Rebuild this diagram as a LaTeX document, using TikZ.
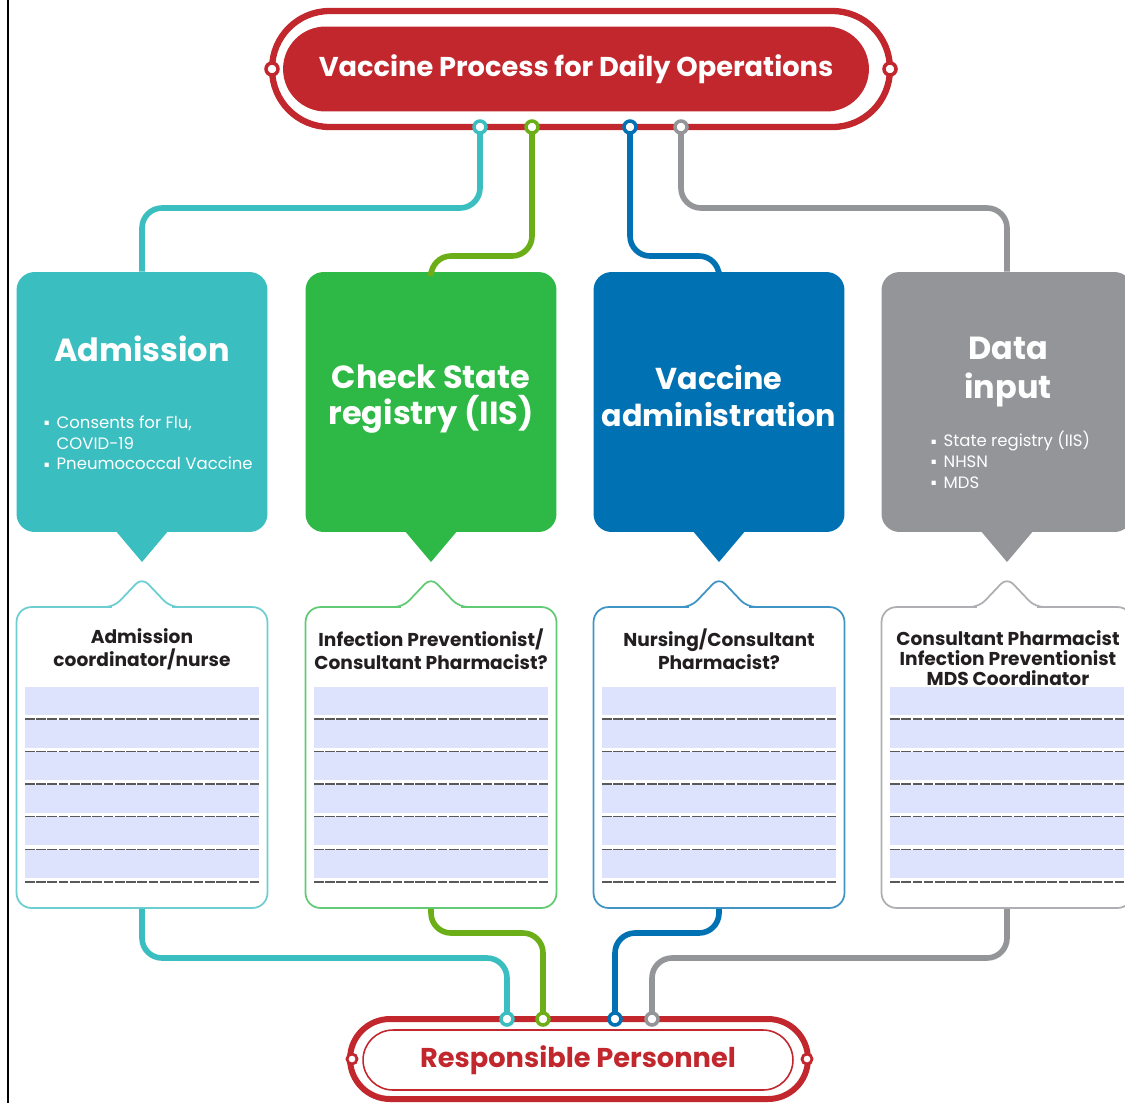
\documentclass[tikz,border=0pt]{standalone}
\usepackage{fontspec}
\setmainfont{Poppins}
\usetikzlibrary{positioning}
\definecolor{vred}{HTML}{C1272D}
\definecolor{vteal}{HTML}{3BBEC0}
\definecolor{vgreen}{HTML}{2EB845}
\definecolor{vgreenline}{HTML}{6BAE17}
\definecolor{vblue}{HTML}{0071B2}
\definecolor{vgray}{HTML}{939598}
\definecolor{rowfill}{HTML}{DDE3FC}
\definecolor{ink}{HTML}{231F20}
\newcommand{\pt}{\raisebox{0.3ex}{\scalebox{0.38}{$\blacksquare$}}\hspace{0.45em}}
\usepackage{amssymb}

\begin{document}
\begin{tikzpicture}[x=0.02cm,y=-0.02cm]
\tikzstyle{stepbox}=[rectangle, rounded corners=0.36cm, minimum width=5.02cm, minimum height=5.2cm, inner sep=0pt]
\tikzstyle{rolebox}=[rectangle, rounded corners=0.3cm, minimum width=5.02cm, minimum height=6.02cm, fill=white, line width=1pt, inner sep=0pt]
\tikzstyle{station}=[circle, fill=white, draw, line width=2pt, minimum size=0.24cm, inner sep=0pt]
\tikzstyle{route}=[line width=3.2pt, rounded corners=0.4cm]
\tikzstyle{head}=[text=white, align=center, font=\fontsize{18.2}{20.6}\selectfont\bfseries]
\tikzstyle{bul}=[text=white, align=left, anchor=west, inner sep=0pt, font=\fontsize{9.4}{11.8}\selectfont]
\tikzstyle{rolehead}=[text=ink, align=center, inner sep=0pt, font=\fontsize{10.6}{13}\selectfont\bfseries]
\useasboundingbox (0,0) rectangle (1125,1103);
\clip (0,0) rectangle (1125,1103);
\draw[line width=1.2pt] (8,0) -- (8,1103);

% top banner
\node[draw=vred, line width=3.6pt, rounded corners=1.15cm, minimum width=12.36cm, minimum height=2.32cm] (ring) at (581,69) {};
\node[fill=vred, rounded corners=0.85cm, minimum width=11.72cm, minimum height=1.7cm, text=white, font=\fontsize{15.5}{17}\selectfont\bfseries] (title) at (576,69) {Vaccine Process for Daily Operations};
\node[station, draw=vred] (ringL) at (272,69) {};
\node[station, draw=vred] (ringR) at (890,69) {};

% bottom banner
\node[draw=vred, line width=3.4pt, rounded corners=0.8cm, minimum width=9.16cm, minimum height=1.6cm] (base) at (579,1059) {};
\node[draw=vred, line width=0.9pt, rounded corners=0.6cm, minimum width=8.6cm, minimum height=1.2cm, text=vred, font=\fontsize{15.5}{17}\selectfont\bfseries] (resp) at (578,1060) {Responsible Personnel};
\node[station, draw=vred, line width=1.6pt, minimum size=0.2cm] (baseL) at (352,1059) {};
\node[station, draw=vred, line width=1.6pt, minimum size=0.2cm] (baseR) at (807,1059) {};

% step boxes
\foreach \cx/\col/\nm in {142/vteal/adm,431/vgreen/chk,719/vblue/vac,1007/vgray/dat}{
  \node[stepbox, fill=\col] (\nm) at (\cx,402) {};
  \fill[\col] (\cx-27,530) -- (\cx,562) -- (\cx+27,530) -- cycle;
  \node[rolebox, draw=\col!75] (\nm R) at (\cx,757.5) {};
  \fill[white] (\cx-30,604) rectangle (\cx+30,610);
  \draw[\col!75, line width=1pt, rounded corners=5pt] (\cx-40,607) -- (\cx-28,607) -- (\cx,577.5) -- (\cx+28,607) -- (\cx+40,607);
  \foreach \i in {0,...,5}{
    \fill[rowfill] (\cx-117,717-30+32.6*\i) rectangle (\cx+117,717-2+32.6*\i);
    \draw[black!65, line width=0.9pt, dash pattern=on 5.5pt off 0.9pt] (\cx-117,719+32.6*\i) -- (\cx+117,719+32.6*\i);
  }
}

\node[head] (admT) at (142,349) {Admission};
\node[bul] (admL) at (44,443) {\pt Consents for Flu,\\\phantom{\pt}COVID-19\\\pt Pneumococcal Vaccine};
\node[head] (chkT) at (431,399) {Check State\\registry (IIS)};
\node[head, font=\fontsize{17.2}{20.6}\selectfont\bfseries] (vacT) at (719,396) {Vaccine\\administration};
\node[head, font=\fontsize{18.2}{22.7}\selectfont\bfseries] (datT) at (1008,372) {Data\\input};
\node[bul] (datL) at (931,460) {\pt State registry (IIS)\\\pt NHSN\\\pt MDS};

\node[rolehead] (admH) at (142,649) {Admission\\coordinator/nurse};
\node[rolehead] (chkH) at (431,649) {Infection Preventionist/\\Consultant Pharmacist?};
\node[rolehead] (vacH) at (719,649) {Nursing/Consultant\\Pharmacist?};
\node[rolehead, font=\fontsize{10.6}{11.3}\selectfont\bfseries] (datH) at (1008,658) {Consultant Pharmacist\\Infection Preventionist\\MDS Coordinator};

% routes
\coordinate (hiA) at (0,208);
\coordinate (hiB) at (0,256);
\coordinate (loA) at (0,958);
\coordinate (loB) at (0,933);
\foreach \x/\col/\nm in {480/vteal/tA,532/vgreenline/tB,630/vblue/tC,681/vgray/tD}{
  \coordinate (\nm) at (\x,127);
}
\foreach \x/\nm in {507/bA,543/bB,615/bC,652/bD}{
  \coordinate (\nm) at (\x,1019);
}
\foreach \i/\j/\k/\col in {tA/hiA/adm/vteal,tB/hiB/chk/vgreenline,tC/hiB/vac/vblue,tD/hiA/dat/vgray}{
  \draw[route, \col] (\i) -- (\i |- \j) -| (\k.north);
}
\foreach \i/\j/\k/\col in {bA/loA/admR/vteal,bB/loB/chkR/vgreenline,bC/loB/vacR/vblue,bD/loA/datR/vgray}{
  \draw[route, \col] (\k.south) -- (\k.south |- \j) -| (\i);
}
\foreach \i/\col in {tA/vteal,tB/vgreenline,tC/vblue,tD/vgray,bA/vteal,bB/vgreenline,bC/vblue,bD/vgray}{
  \node[station, draw=\col] at (\i) {};
}
\end{tikzpicture}
\end{document}
